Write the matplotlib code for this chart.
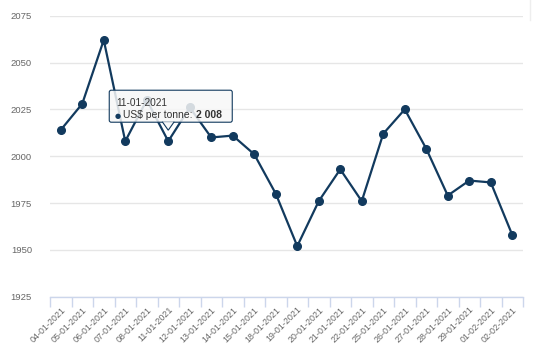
import matplotlib
matplotlib.use('Agg')
import matplotlib.pyplot as plt
import matplotlib.patches as mpatches
from matplotlib.transforms import IdentityTransform
from matplotlib.lines import Line2D

plt.rcParams['font.family'] = ['Liberation Sans', 'DejaVu Sans']

# data
dates = ['04-01-2021', '05-01-2021', '06-01-2021', '07-01-2021', '08-01-2021',
         '11-01-2021', '12-01-2021', '13-01-2021', '14-01-2021', '15-01-2021',
         '18-01-2021', '19-01-2021', '20-01-2021', '21-01-2021', '22-01-2021',
         '25-01-2021', '26-01-2021', '27-01-2021', '28-01-2021', '29-01-2021',
         '01-02-2021', '02-02-2021']
prices = [2014, 2028, 2062, 2008, 2030, 2008, 2026, 2010, 2011, 2001,
          1980, 1952, 1976, 1993, 1976, 2012, 2025, 2004, 1979, 1987,
          1986, 1958]
yticks = [1925, 1950, 1975, 2000, 2025, 2050, 2075]
hover_idx = 5  # tooltip point (11-01-2021)

navy = '#123a5e'
grey_txt = '#666666'

fig = plt.figure(figsize=(5.43, 3.55), dpi=100)
ax = fig.add_axes([50/543, 1 - 296.7/355, 473/543, (296.7 - 15.7)/355])

x = list(range(len(dates)))
ax.plot(x, prices, color=navy, lw=1.6, marker='o', ms=5.5, zorder=3)

ax.set_xlim(-0.5, len(dates) - 0.5)
ax.set_ylim(yticks[0], yticks[-1])
ax.set_yticks(yticks)
ax.set_yticklabels([str(v) for v in yticks], fontsize=6.8, color=grey_txt)
ax.tick_params(axis='y', length=0, pad=13)
ax.grid(axis='y', color='#e6e6e6', lw=1)
ax.set_axisbelow(True)

ax.set_xticks(x)
ax.set_xticklabels(dates, rotation=45, ha='right', rotation_mode='anchor',
                   fontsize=6.4, color=grey_txt)
ax.tick_params(axis='x', which='major', length=0, pad=6)
ax.set_xticks([i - 0.5 for i in range(len(dates) + 1)], minor=True)
ax.tick_params(axis='x', which='minor', length=7, color='#ccd6eb', width=1)

for s in ['top', 'right', 'left']:
    ax.spines[s].set_visible(False)
ax.spines['bottom'].set_color('#ccd6eb')
ax.spines['bottom'].set_linewidth(1)

# tooltip
px, py = ax.transData.transform((hover_idx, prices[hover_idx]))
box = mpatches.FancyBboxPatch((px - 59, py + 19), 123, 32,
                              boxstyle='round,pad=0,rounding_size=2',
                              transform=IdentityTransform(),
                              facecolor=(0.97, 0.97, 0.97, 0.85),
                              edgecolor=navy, lw=0.8, zorder=5)
fig.patches.append(box)
notch = mpatches.Polygon([(px - 6, py + 19.5), (px, py + 11), (px + 6, py + 19.5)],
                         closed=False, transform=IdentityTransform(),
                         facecolor=(0.97, 0.97, 0.97, 0.85), edgecolor=navy,
                         lw=0.8, zorder=5)
fig.patches.append(notch)

fig.text(px - 52, py + 35, dates[hover_idx], transform=IdentityTransform(),
         fontsize=7.3, color='#333333', va='baseline', zorder=6)
fig.text(px - 54, py + 23, '\u25cf', transform=IdentityTransform(),
         fontsize=5, color=navy, va='baseline', zorder=6,
         family=['DejaVu Sans'])
t1 = fig.text(px - 45, py + 23, 'US$ per tonne: ', transform=IdentityTransform(),
              fontsize=7.5, color='#333333', va='baseline', zorder=6)
fig.canvas.draw()
bb = t1.get_window_extent()
val = '{:,}'.format(prices[hover_idx]).replace(',', ' ')
fig.text(bb.x1, py + 23, val, transform=IdentityTransform(),
         fontsize=7.5, color='#333333', weight='bold', va='baseline', zorder=6)

# faint mark at top right
fig.add_artist(Line2D([530/543, 530/543], [1, 1 - 20/355], color='#eeeeee', lw=1))

fig.savefig('out.png', dpi=100)
